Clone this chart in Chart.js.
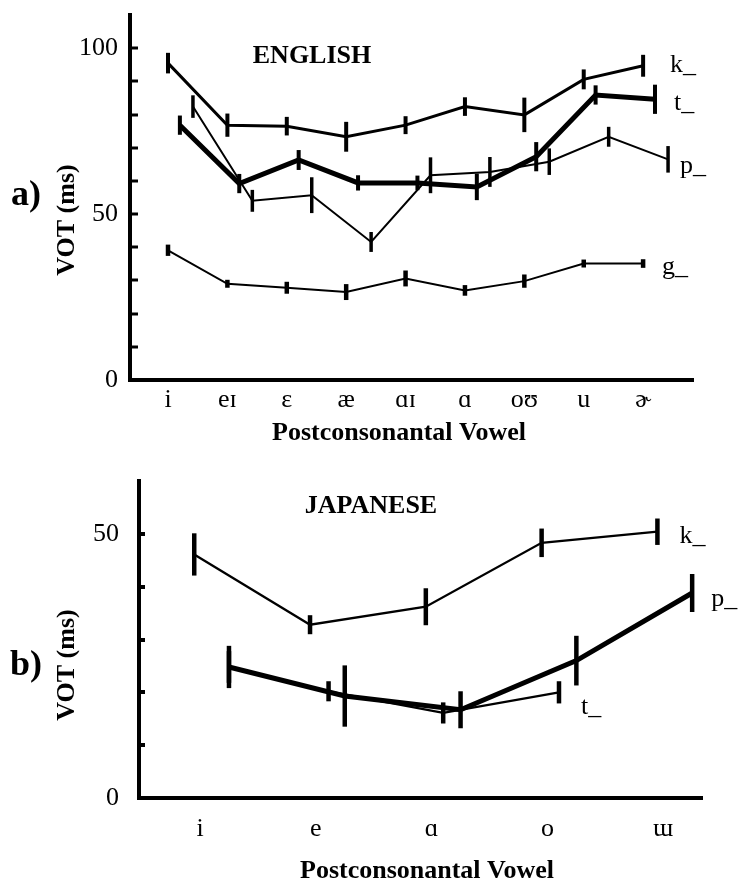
<!DOCTYPE html>
<html>
<head>
<meta charset="utf-8">
<title>VOT by postconsonantal vowel</title>
<script src="https://cdn.jsdelivr.net/npm/chart.js@4.4.0/dist/chart.umd.min.js"></script>
<style>
  html, body { margin: 0; padding: 0; background: #fff; }
  #wrap { position: relative; width: 739px; height: 887px; }
  canvas { position: absolute; left: 0; }
  #chartA { top: 0; }
  #chartB { top: 460px; }
</style>
</head>
<body>
<div id="wrap">
  <canvas id="chartA" width="739" height="460"></canvas>
  <canvas id="chartB" width="739" height="427"></canvas>
</div>
<script>
// ---- English: mean VOT (ms) and error half-widths per following vowel ----
const englishVowels = ['i', 'eɪ', 'ɛ', 'æ', 'ɑɪ', 'ɑ', 'oʊ', 'u', 'ɚ'];
const englishK    = [95.5, 76.8, 76.5, 73.3, 76.8, 82.4, 79.9, 90.6, 94.7];
const englishKErr = [3.1, 3.5, 2.8, 4.5, 2.7, 2.8, 5.2, 3.0, 3.3];
const englishT    = [76.8, 59.2, 66.3, 59.4, 59.4, 58.2, 67.3, 85.9, 84.6];
const englishTErr = [2.9, 2.9, 3.0, 2.3, 2.2, 4.0, 4.4, 2.9, 4.4];
const englishP    = [82.4, 54.0, 55.7, 41.6, 61.7, 62.7, 65.8, 73.3, 66.5];
const englishPErr = [3.4, 3.3, 5.4, 3.0, 5.4, 4.5, 4.0, 3.0, 4.0];
const englishG    = [39.1, 29.0, 27.8, 26.5, 30.6, 27.0, 29.8, 35.1, 35.1];
const englishGErr = [1.7, 1.2, 1.8, 2.4, 2.4, 1.6, 2.0, 1.2, 1.3];

// ---- Japanese ----
const japaneseVowels = ['i', 'e', 'ɑ', 'o', 'ɯ'];
const japaneseK    = [46.1, 32.8, 36.2, 48.3, 50.4];
const japaneseKErr = [4.0, 1.8, 3.5, 2.7, 2.5];
const japaneseP    = [24.8, 19.3, 16.7, 26.0, 38.8];
const japanesePErr = [4.0, 5.8, 3.5, 4.7, 3.6];
const japaneseT    = [24.8, 20.2, 16.1, 20.0];   // no t_ before ɯ
const japaneseTErr = [3.0, 1.9, 2.0, 2.1];

const SERIF = "'Liberation Serif', 'Times New Roman', 'DejaVu Serif', serif";
Chart.defaults.font.family = SERIF;
Chart.defaults.color = '#000';

// Vertical error bars drawn through the chart's own scales
const errorBars = {
  id: 'errorBars',
  afterDatasetsDraw(chart) {
    const { ctx, scales: { x, y } } = chart;
    chart.data.datasets.forEach((ds, di) => {
      if (!chart.isDatasetVisible(di) || !ds.errors) return;
      ctx.save();
      ctx.strokeStyle = '#000';
      ctx.lineWidth = ds.errorWidth;
      ctx.lineCap = 'butt';
      ds.data.forEach((pt, i) => {
        const e = ds.errors[i];
        if (e == null) return;
        const px = x.getPixelForValue(pt.x);
        ctx.beginPath();
        ctx.moveTo(px, y.getPixelForValue(pt.y - e));
        ctx.lineTo(px, y.getPixelForValue(pt.y + e));
        ctx.stroke();
      });
      ctx.restore();
    });
  }
};

// Short tick marks pointing into the plot from the y axis
const innerTicks = {
  id: 'innerTicks',
  afterDraw(chart, args, opts) {
    const { ctx, chartArea, scales: { y } } = chart;
    ctx.save();
    ctx.strokeStyle = '#000';
    ctx.lineWidth = opts.width;
    y.ticks.forEach(t => {
      if (t.value <= y.min || t.value >= y.max) return;
      const py = Math.round(y.getPixelForValue(t.value));
      ctx.beginPath();
      ctx.moveTo(chartArea.left, py);
      ctx.lineTo(chartArea.left + opts.length, py);
      ctx.stroke();
    });
    ctx.restore();
  }
};

// Panel letter, axis titles, language heading and series tags
const panelText = {
  id: 'panelText',
  afterDraw(chart, args, opts) {
    const { ctx, scales: { x, y } } = chart;
    (opts.items || []).forEach(it => {
      ctx.save();
      ctx.font = (it.bold ? 'bold ' : '') + it.size + 'px ' + SERIF;
      ctx.fillStyle = '#000';
      ctx.textAlign = 'center';
      ctx.textBaseline = 'middle';
      ctx.translate(it.x, it.y);
      if (it.rotate) ctx.rotate(it.rotate);
      ctx.fillText(it.text, 0, 0);
      ctx.restore();
    });
    chart.data.datasets.forEach(ds => {
      if (!ds.tag) return;
      const last = ds.data[ds.data.length - 1];
      ctx.save();
      ctx.font = '26px ' + SERIF;
      ctx.fillStyle = '#000';
      ctx.textAlign = 'left';
      ctx.textBaseline = 'alphabetic';
      ctx.fillText(ds.label, x.getPixelForValue(last.x) + ds.tag.dx, y.getPixelForValue(last.y) + ds.tag.dy);
      ctx.restore();
    });
  }
};

function jitterAt(j, i) { return Array.isArray(j) ? j[i] : j; }

function buildPanel(id, cfg) {
  return new Chart(document.getElementById(id), {
    type: 'line',
    data: {
      datasets: cfg.series.map(s => ({
        label: s.label,
        data: s.values.map((v, i) => ({ x: i + jitterAt(s.jitter, i), y: v })),
        errors: s.errors,
        errorWidth: s.bar,
        tag: s.tag,
        borderColor: '#000',
        backgroundColor: '#000',
        borderWidth: s.line,
        pointRadius: 0,
        tension: 0,
        fill: false,
        borderJoinStyle: 'miter',
        borderCapStyle: 'butt'
      }))
    },
    options: {
      responsive: false,
      animation: false,
      events: [],
      layout: { padding: cfg.padding },
      plugins: {
        legend: { display: false },
        tooltip: { enabled: false },
        innerTicks: { length: cfg.tickLen, width: cfg.tickWidth },
        panelText: { items: cfg.texts }
      },
      scales: {
        x: {
          type: 'linear',
          min: cfg.xMin,
          max: cfg.xMax,
          afterFit: s => {
            s.height = cfg.xAxisHeight;
            s.paddingLeft = 0; s.paddingRight = 0;
          },
          afterBuildTicks: s => { s.ticks = cfg.categories.map((_, i) => ({ value: i })); },
          grid: { display: false, drawTicks: false },
          border: { display: true, width: 4, color: '#000' },
          ticks: {
            autoSkip: false, maxRotation: 0, minRotation: 0,
            padding: cfg.xTickPad,
            font: { size: 26 }, color: '#000',
            callback: v => cfg.categories[v]
          }
        },
        y: {
          min: 0,
          max: cfg.yMax,
          afterFit: s => {
            s.width = cfg.yAxisWidth;
            s.paddingTop = 0; s.paddingBottom = 0;
          },
          grid: { display: false, drawTicks: false },
          border: { display: true, width: 4, color: '#000' },
          ticks: {
            stepSize: 10, autoSkip: false,
            padding: cfg.yTickPad,
            font: { size: 26 }, color: '#000',
            callback: v => (v % 50 === 0 ? String(v) : '')
          }
        }
      }
    },
    plugins: [errorBars, innerTicks, panelText]
  });
}

// a) English
buildPanel('chartA', {
  categories: englishVowels,
  xMin: -0.64, xMax: 8.84, yMax: 110,
  padding: { top: 15, right: 46, bottom: 0, left: 0 },
  xAxisHeight: 80, yAxisWidth: 130,
  xTickPad: 5, yTickPad: 12,
  tickLen: 8, tickWidth: 3,
  series: [
    { label: 'k_', values: englishK, errors: englishKErr, jitter: 0,    line: 3, bar: 4,   tag: { dx: 27, dy: 6 } },
    { label: 't_', values: englishT, errors: englishTErr, jitter: 0.2,  line: 5, bar: 4,   tag: { dx: 19, dy: 11 } },
    { label: 'p_', values: englishP, errors: englishPErr, jitter: 0.42, line: 2, bar: 3.5, tag: { dx: 12, dy: 14 } },
    { label: 'g_', values: englishG, errors: englishGErr, jitter: 0,    line: 2, bar: 4.5, tag: { dx: 19, dy: 10 } }
  ],
  texts: [
    { text: 'a)', x: 26, y: 196, size: 36, bold: true },
    { text: 'VOT (ms)', x: 67, y: 220, size: 26, bold: true, rotate: -Math.PI / 2 },
    { text: 'ENGLISH', x: 312, y: 56, size: 26, bold: true },
    { text: 'Postconsonantal Vowel', x: 399, y: 433, size: 26, bold: true }
  ]
});

// b) Japanese
buildPanel('chartB', {
  categories: japaneseVowels,
  xMin: -0.527, xMax: 4.335, yMax: 60,
  padding: { top: 21, right: 37, bottom: 0, left: 0 },
  xAxisHeight: 89, yAxisWidth: 139,
  xTickPad: 16, yTickPad: 20,
  tickLen: 6, tickWidth: 4,
  series: [
    { label: 'k_', values: japaneseK, errors: japaneseKErr, jitter: -0.05, line: 2.3, bar: 4.5, tag: { dx: 22, dy: 11 } },
    { label: 'p_', values: japaneseP, errors: japanesePErr, jitter: 0.25,  line: 5,   bar: 4.5, tag: { dx: 19, dy: 13 } },
    { label: 't_', values: japaneseT, errors: japaneseTErr, jitter: [0.25, 0.11, 0.1, 0.1], line: 2.3, bar: 4.5, tag: { dx: 22, dy: 22 } }
  ],
  texts: [
    { text: 'b)', x: 26, y: 206, size: 36, bold: true },
    { text: 'VOT (ms)', x: 67, y: 205, size: 26, bold: true, rotate: -Math.PI / 2 },
    { text: 'JAPANESE', x: 371, y: 46, size: 26, bold: true },
    { text: 'Postconsonantal Vowel', x: 427, y: 411, size: 26, bold: true }
  ]
});
</script>
</body>
</html>
